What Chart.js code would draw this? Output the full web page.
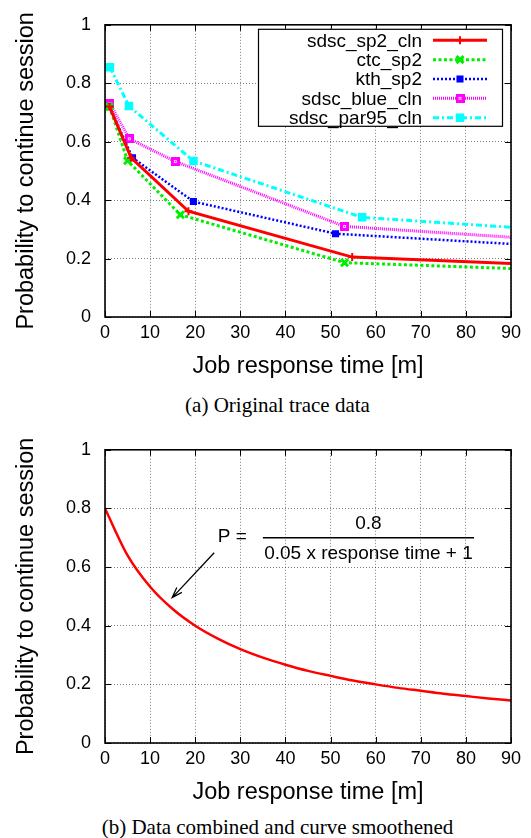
<!DOCTYPE html>
<html>
<head>
<meta charset="utf-8">
<script src="https://cdn.jsdelivr.net/npm/chart.js@4.4.1/dist/chart.umd.min.js"></script>
<style>
    html, body { margin: 0; padding: 0; background: #fff; overflow: hidden; width: 531px; height: 838px; }
    .wrap { position: absolute; left: 0; width: 531px; }
    .cap { position: absolute; left: 12px; width: 531px; text-align: center; color: #000;
           font-family: "Liberation Serif", "Times New Roman", serif; font-size: 21px; line-height: 24px; }
</style>
</head>
<body>
<div class="wrap" style="top:0;height:384px"><canvas id="chart-trace"></canvas></div>
<div class="cap" style="top:393px">(a) Original trace data</div>
<div class="wrap" style="top:425px;height:385px"><canvas id="chart-smooth"></canvas></div>
<div class="cap" style="top:815px">(b) Data combined and curve smoothened</div>
<script>
/* Session continuation vs. job response time — two gnuplot-style panels. */
var xTicks = [0, 10, 20, 30, 40, 50, 60, 70, 80, 90];
var yTicks = [0, 0.2, 0.4, 0.6, 0.8, 1];
var yTickLabels = ['0', '0.2', '0.4', '0.6', '0.8', '1'];
var xTitle = 'Job response time [m]';
var yTitle = 'Probability to continue session';

var seriesNames = ['sdsc_sp2_cln', 'ctc_sp2', 'kth_sp2', 'sdsc_blue_cln', 'sdsc_par95_cln'];

// panel (a): original trace data (last point is where the line leaves the frame)
var sp2ClnX = [1.0, 5.8, 18.5, 54.8, 90];
var sp2ClnY = [0.72, 0.545, 0.362, 0.205, 0.183];
var ctcX = [1.0, 5.0, 16.7, 53.1, 90];
var ctcY = [0.72, 0.535, 0.35, 0.186, 0.166];
var kthX = [1.0, 6.1, 19.6, 51.1, 90];
var kthY = [0.72, 0.545, 0.395, 0.285, 0.25];
var blueClnX = [1.1, 5.4, 15.6, 53.1, 90];
var blueClnY = [0.73, 0.61, 0.532, 0.31, 0.273];
var par95X = [1.1, 5.3, 19.6, 57.0, 90];
var par95Y = [0.855, 0.722, 0.534, 0.341, 0.307];

// panel (b): combined, smoothed curve
var smoothX = [0, 5, 10, 15, 20, 25, 30, 35, 40, 45, 50, 55, 60, 65, 70, 75, 80, 85, 90];
var smoothY = [0.80, 0.64, 0.533, 0.457, 0.40, 0.356, 0.32, 0.291, 0.267, 0.246, 0.229,
               0.213, 0.20, 0.188, 0.178, 0.168, 0.16, 0.152, 0.145];

var formulaLead = 'P =';
var formulaTop = '0.8';
var formulaBottom = '0.05 x response time + 1';

(function () {
    'use strict';

    var FONT = '"Liberation Sans", Arial, Helvetica, sans-serif';

    // magenta square with a small light hole, like gnuplot's point type
    function hollowSquare(color, inner) {
        var c = document.createElement('canvas');
        c.width = 9; c.height = 9;
        var g = c.getContext('2d');
        g.fillStyle = color;
        g.fillRect(0, 0, 9, 9);
        g.strokeStyle = inner;
        g.lineWidth = 1;
        g.strokeRect(3.5, 3.5, 2, 2);
        return c;
    }

    var styles = [
        { color: '#ff0000', width: 3, dash: [], point: 'cross', radius: 4, pw: 2 },
        { color: '#00ee00', width: 3, dash: [3, 2.5], point: 'crossRot', radius: 5, pw: 3 },
        { color: '#0000ff', width: 2.5, dash: [2, 2], point: 'rect', radius: 5, pw: 0 },
        { color: '#ff00ff', width: 3, dash: [1, 1], point: hollowSquare('#ff00ff', '#ffc8ff'), radius: 6, pw: 0 },
        { color: '#00ffff', width: 3, dash: [6, 3, 2, 3], point: 'rect', radius: 6, pw: 0 }
    ];

    function toPoints(xs, ys) {
        return xs.map(function (x, i) { return { x: x, y: ys[i] }; });
    }

    function fixTicks(list) {
        return function (scale) {
            scale.ticks = list.map(function (v) { return { value: v }; });
        };
    }

    function scalesFor(axisHeight) {
        return {
            x: {
                type: 'linear', min: 0, max: 90,
                afterBuildTicks: fixTicks(xTicks),
                afterFit: function (s) { s.height = axisHeight; },
                grid: { color: 'rgba(0,0,0,0.5)', lineWidth: 1, drawTicks: false },
                border: { display: false, dash: [1, 2] },
                ticks: { color: '#000', padding: 5, maxRotation: 0, font: { family: FONT, size: 18 } },
                title: { display: true, text: xTitle, color: '#000', padding: { top: 0, bottom: 3 },
                         font: { family: FONT, size: 23.5 } }
            },
            y: {
                type: 'linear', min: 0, max: 1,
                afterBuildTicks: fixTicks(yTicks),
                afterFit: function (s) { s.width = 105; },
                grid: { color: 'rgba(0,0,0,0.5)', lineWidth: 1, drawTicks: false },
                border: { display: false, dash: [1, 2] },
                ticks: {
                    color: '#000', padding: 14, font: { family: FONT, size: 18 },
                    callback: function (v, i) { return yTickLabels[i]; }
                },
                title: { display: true, text: yTitle, color: '#000', padding: { top: 12, bottom: 0 },
                         font: { family: FONT, size: 23.5 } }
            }
        };
    }

    // solid frame + inward tick marks on all four sides
    var framePlugin = {
        id: 'frame',
        afterDatasetsDraw: function (chart) {
            var a = chart.chartArea, ctx = chart.ctx;
            var sx = chart.scales.x, sy = chart.scales.y;
            ctx.save();
            ctx.setLineDash([]);
            ctx.strokeStyle = '#000';
            ctx.lineWidth = 1;
            ctx.beginPath();
            xTicks.forEach(function (v) {
                var p = Math.round(sx.getPixelForValue(v)) + 0.5;
                ctx.moveTo(p, a.bottom); ctx.lineTo(p, a.bottom - 6);
                ctx.moveTo(p, a.top); ctx.lineTo(p, a.top + 6);
            });
            yTicks.forEach(function (v) {
                var p = Math.round(sy.getPixelForValue(v)) + 0.5;
                ctx.moveTo(a.left, p); ctx.lineTo(a.left + 6, p);
                ctx.moveTo(a.right, p); ctx.lineTo(a.right - 6, p);
            });
            ctx.stroke();
            ctx.lineWidth = 1.6;
            ctx.strokeRect(a.left, a.top, a.right - a.left, a.bottom - a.top);
            ctx.restore();
        }
    };

    // gnuplot-like key: right-aligned names, sample line with marker on the right
    var keyPlugin = {
        id: 'key',
        afterDraw: function (chart) {
            var a = chart.chartArea, ctx = chart.ctx;
            var boxL = a.right - 253, boxT = a.top + 4, boxW = 244, boxH = 97;
            ctx.save();
            ctx.fillStyle = '#fff';
            ctx.fillRect(boxL, boxT, boxW, boxH);
            ctx.strokeStyle = '#000';
            ctx.lineWidth = 1.2;
            ctx.setLineDash([]);
            ctx.strokeRect(boxL + 0.5, boxT + 0.5, boxW, boxH);
            ctx.font = '19px ' + FONT;
            ctx.textAlign = 'right';
            ctx.textBaseline = 'middle';
            seriesNames.forEach(function (name, i) {
                var st = styles[i];
                var y = boxT + 11.5 + i * 19.35;
                ctx.fillStyle = '#000';
                ctx.fillText(name, a.right - 89, y + 1);
                ctx.strokeStyle = st.color;
                ctx.lineWidth = st.width;
                ctx.setLineDash(st.dash);
                ctx.beginPath();
                ctx.moveTo(a.right - 78, y);
                ctx.lineTo(a.right - 24, y);
                ctx.stroke();
                ctx.setLineDash([]);
                ctx.fillStyle = st.color;
                ctx.lineWidth = st.pw;
                Chart.helpers.drawPoint(ctx, { pointStyle: st.point, rotation: 0, radius: st.radius,
                                               borderWidth: st.pw }, a.right - 51, y);
            });
            ctx.restore();
        }
    };

    // formula annotation and arrow in panel (b), placed in data coordinates
    var note = { leadX: 25.0, leadY: 0.703, barX0: 35.0, barX1: 81.8, barY: 0.70,
                 topY: 0.748, bottomY: 0.644, arrowX0: 24.2, arrowY0: 0.649, arrowX1: 14.9, arrowY1: 0.496 };

    var notePlugin = {
        id: 'note',
        afterDatasetsDraw: function (chart) {
            var ctx = chart.ctx, sx = chart.scales.x, sy = chart.scales.y;
            var px = function (v) { return sx.getPixelForValue(v); };
            var py = function (v) { return sy.getPixelForValue(v); };
            ctx.save();
            ctx.fillStyle = '#000';
            ctx.strokeStyle = '#000';
            ctx.font = '19px ' + FONT;
            ctx.textBaseline = 'middle';
            ctx.textAlign = 'left';
            ctx.fillText(formulaLead, px(note.leadX), py(note.leadY));
            var mid = (px(note.barX0) + px(note.barX1)) / 2;
            ctx.textAlign = 'center';
            ctx.fillText(formulaTop, mid, py(note.topY));
            ctx.fillText(formulaBottom, mid, py(note.bottomY));
            ctx.lineWidth = 1.3;
            ctx.beginPath();
            ctx.moveTo(px(note.barX0), py(note.barY));
            ctx.lineTo(px(note.barX1), py(note.barY));
            ctx.stroke();
            var x0 = px(note.arrowX0), y0 = py(note.arrowY0), x1 = px(note.arrowX1), y1 = py(note.arrowY1);
            var ang = Math.atan2(y1 - y0, x1 - x0), hl = 11, hw = 0.32;
            ctx.beginPath();
            ctx.moveTo(x0, y0); ctx.lineTo(x1, y1);
            ctx.moveTo(x1 - hl * Math.cos(ang - hw), y1 - hl * Math.sin(ang - hw));
            ctx.lineTo(x1, y1);
            ctx.lineTo(x1 - hl * Math.cos(ang + hw), y1 - hl * Math.sin(ang + hw));
            ctx.stroke();
            ctx.restore();
        }
    };

    function traceDataset(i, xs, ys) {
        var st = styles[i];
        return {
            label: seriesNames[i],
            data: toPoints(xs, ys),
            borderColor: st.color,
            backgroundColor: st.color,
            borderWidth: st.width,
            borderDash: st.dash,
            tension: 0,
            pointStyle: st.point,
            pointRadius: xs.map(function (v, k) { return k === xs.length - 1 ? 0 : st.radius; }),
            pointBorderWidth: st.pw,
            pointBorderColor: st.color,
            pointBackgroundColor: st.color
        };
    }

    function init() {
        new Chart(document.getElementById('chart-trace'), {
            type: 'line',
            data: {
                datasets: [
                    traceDataset(0, sp2ClnX, sp2ClnY),
                    traceDataset(1, ctcX, ctcY),
                    traceDataset(2, kthX, kthY),
                    traceDataset(3, blueClnX, blueClnY),
                    traceDataset(4, par95X, par95Y)
                ]
            },
            options: {
                responsive: true,
                maintainAspectRatio: false,
                animation: false,
                layout: { padding: { top: 23, right: 20, bottom: 0, left: 0 } },
                plugins: { legend: { display: false }, tooltip: { enabled: false } },
                scales: scalesFor(67)
            },
            plugins: [framePlugin, keyPlugin]
        });

        new Chart(document.getElementById('chart-smooth'), {
            type: 'line',
            data: {
                datasets: [{
                    data: toPoints(smoothX, smoothY),
                    borderColor: '#ff0000',
                    borderWidth: 2.5,
                    cubicInterpolationMode: 'monotone',
                    pointRadius: 0
                }]
            },
            options: {
                responsive: true,
                maintainAspectRatio: false,
                animation: false,
                layout: { padding: { top: 23, right: 20, bottom: 0, left: 0 } },
                plugins: { legend: { display: false }, tooltip: { enabled: false } },
                scales: scalesFor(67)
            },
            plugins: [framePlugin, notePlugin]
        });
    }

    if (document.readyState === 'loading') {
        document.addEventListener('DOMContentLoaded', init);
    } else {
        init();
    }
})();
</script>
</body>
</html>
